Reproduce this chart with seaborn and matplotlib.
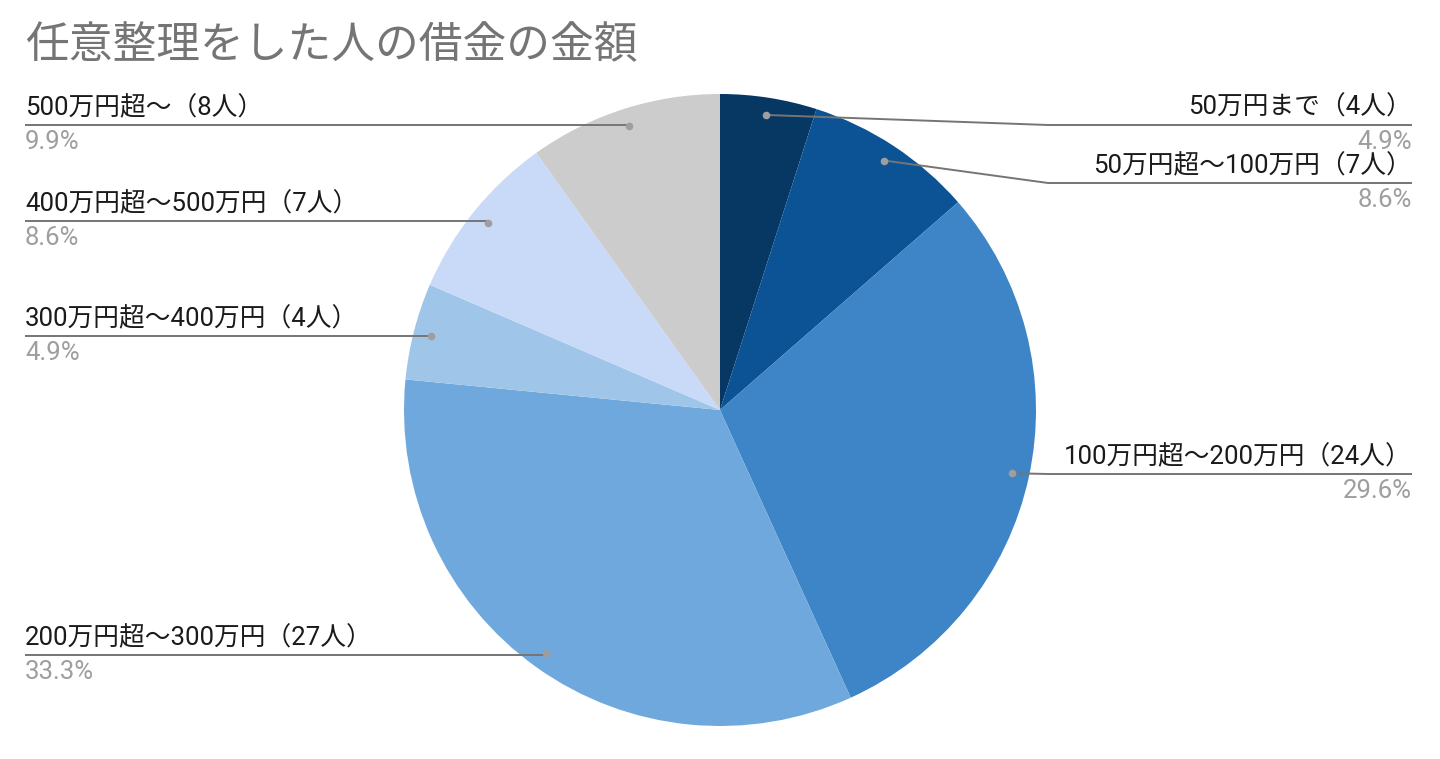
import numpy as np
import matplotlib
matplotlib.use("Agg")
import matplotlib.pyplot as plt
import seaborn as sns

title = "任意整理をした人の借金の金額"
categories = [
    "50万円まで",
    "50万円超〜100万円",
    "100万円超〜200万円",
    "200万円超〜300万円",
    "300万円超〜400万円",
    "400万円超〜500万円",
    "500万円超〜",
]
counts = [4, 7, 24, 27, 4, 7, 8]
colors = ["#073763", "#0b5394", "#3d85c6", "#6fa8dc", "#9fc5e8", "#c9daf8", "#cccccc"]

# label layout (pixel rows of the leader line, side of the chart)
label_y = [125, 183, 474, 655, 336, 221, 125]
label_side = ["R", "R", "R", "L", "L", "L", "L"]

sns.set_theme(style="white")
plt.rcParams["font.family"] = ["Roboto", "Noto Sans CJK JP", "DejaVu Sans"]

W, H = 1440, 759
fig = plt.figure(figsize=(W / 100, H / 100), dpi=100)
ax = fig.add_axes([0, 0, 1, 1])

cx, cy, R = 720, 410, 316
wedges, _ = ax.pie(
    counts,
    colors=sns.color_palette(colors),
    startangle=90,
    counterclock=False,
    center=(cx, H - cy),
    radius=R,
    wedgeprops=dict(linewidth=0),
)
ax.set_xlim(0, W)
ax.set_ylim(0, H)
ax.set_aspect("equal")
ax.axis("off")

fig.text(25 / W, 1 - 46 / H, title, fontsize=31.5, color="#757575", va="center", ha="left")

total = sum(counts)
line_c = "#757575"
for w, cat, n, ly, side in zip(wedges, categories, counts, label_y, label_side):
    ang = np.deg2rad((w.theta1 + w.theta2) / 2)
    dx = cx + 0.945 * R * np.cos(ang)
    dy = (H - cy) + 0.945 * R * np.sin(ang)
    yl = H - ly
    if side == "R":
        xs = [dx, 1048, 1412]
        ys = [dy, yl, yl]
        tx, ha = 1412, "right"
    else:
        xs = [dx, 25]
        ys = [yl, yl]
        tx, ha = 25, "left"
    ax.plot(xs, ys, color=line_c, lw=1.4, solid_capstyle="butt", zorder=3)
    ax.scatter([dx], [dy], s=30, color="#9e9e9e", zorder=4, linewidths=0)
    ax.text(tx, yl + 5, f"{cat}（{n}人）", ha=ha, va="bottom", fontsize=18.5, color="#1a1a1a")
    ax.text(tx, yl - 5, f"{100 * n / total:.1f}%", ha=ha, va="top", fontsize=18.5, color="#9e9e9e")

fig.savefig("out.png", dpi=100, facecolor="white")
